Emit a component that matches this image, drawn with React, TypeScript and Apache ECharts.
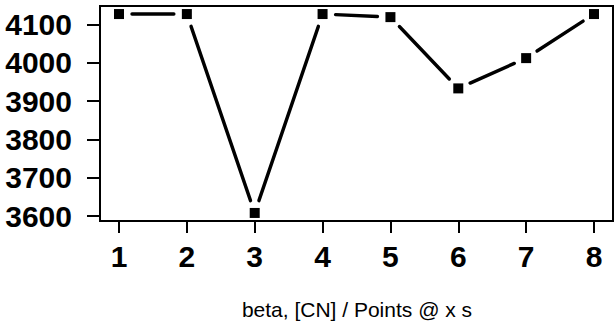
import React, { useEffect, useRef } from "react";
import * as echarts from "echarts";

const xValues = [1, 2, 3, 4, 5, 6, 7, 8];
const yValues = [4127, 4127, 3608, 4127, 4119, 3933, 4012, 4127];
const xTicks = [1, 2, 3, 4, 5, 6, 7, 8];
const yTicks = [3600, 3700, 3800, 3900, 4000, 4100];
const xTitle = "beta, [CN] / Points @ x s";

const FONT = "'Liberation Sans', Arial, Helvetica, sans-serif";

export default function App() {
  const ref = useRef<HTMLDivElement>(null);
  useEffect(() => {
    if (!ref.current) return;
    const chart = echarts.init(ref.current, null, { renderer: "svg" });
    const segments = xValues.slice(0, -1).map((x, i) => [x, yValues[i], xValues[i + 1], yValues[i + 1]]);
    const points = xValues.map((x, i) => [x, yValues[i]]);
    const gap = 13;
    chart.setOption({
      animation: false,
      backgroundColor: "#fff",
      grid: {
        left: 100,
        top: 6,
        width: 513,
        height: 215,
        show: true,
        borderColor: "#000",
        borderWidth: 2,
        backgroundColor: "transparent",
        containLabel: false,
        outerBoundsMode: "none",
      },
      xAxis: {
        type: "value",
        min: 0.72,
        max: 8.28,
        axisLine: { show: false },
        splitLine: { show: false },
        axisTick: { show: true, length: 12, lineStyle: { color: "#000", width: 2 }, customValues: xTicks },
        axisLabel: {
          customValues: xTicks,
          formatter: (v: number) => String(v),
          margin: 20,
          color: "#000",
          fontSize: 30,
          fontWeight: "bold",
          fontFamily: FONT,
        },
      },
      yAxis: {
        type: "value",
        min: 3587,
        max: 4148,
        axisLine: { show: false },
        splitLine: { show: false },
        axisTick: { show: true, length: 13, lineStyle: { color: "#000", width: 2 }, customValues: yTicks },
        axisLabel: {
          customValues: yTicks,
          formatter: (v: number) => String(v),
          margin: 28,
          color: "#000",
          fontSize: 30,
          fontWeight: "bold",
          fontFamily: FONT,
        },
      },
      graphic: [
        {
          type: "text",
          x: 357,
          y: 309.5,
          style: {
            text: xTitle,
            fontSize: 21,
            fontFamily: FONT,
            fill: "#000",
            align: "center",
            verticalAlign: "middle",
          },
        },
      ],
      series: [
        {
          type: "custom",
          data: segments,
          encode: { x: [0, 2], y: [1, 3] },
          clip: false,
          renderItem: (params: any, api: any) => {
            const p1 = api.coord([api.value(0), api.value(1)]);
            const p2 = api.coord([api.value(2), api.value(3)]);
            const dx = p2[0] - p1[0];
            const dy = p2[1] - p1[1];
            const len = Math.sqrt(dx * dx + dy * dy);
            const ux = dx / len;
            const uy = dy / len;
            return {
              type: "line",
              shape: {
                x1: p1[0] + ux * gap,
                y1: p1[1] + uy * gap,
                x2: p2[0] - ux * gap,
                y2: p2[1] - uy * gap,
              },
              style: { stroke: "#000", lineWidth: 3.4, lineCap: "round", fill: null },
            };
          },
        },
        {
          type: "scatter",
          data: points,
          symbol: "rect",
          symbolSize: 10,
          itemStyle: { color: "#000", opacity: 1 },
        },
      ],
    });
    return () => chart.dispose();
  }, []);
  return <div ref={ref} style={{ width: 614, height: 321, position: "absolute", left: 0, top: 0 }} />;
}
